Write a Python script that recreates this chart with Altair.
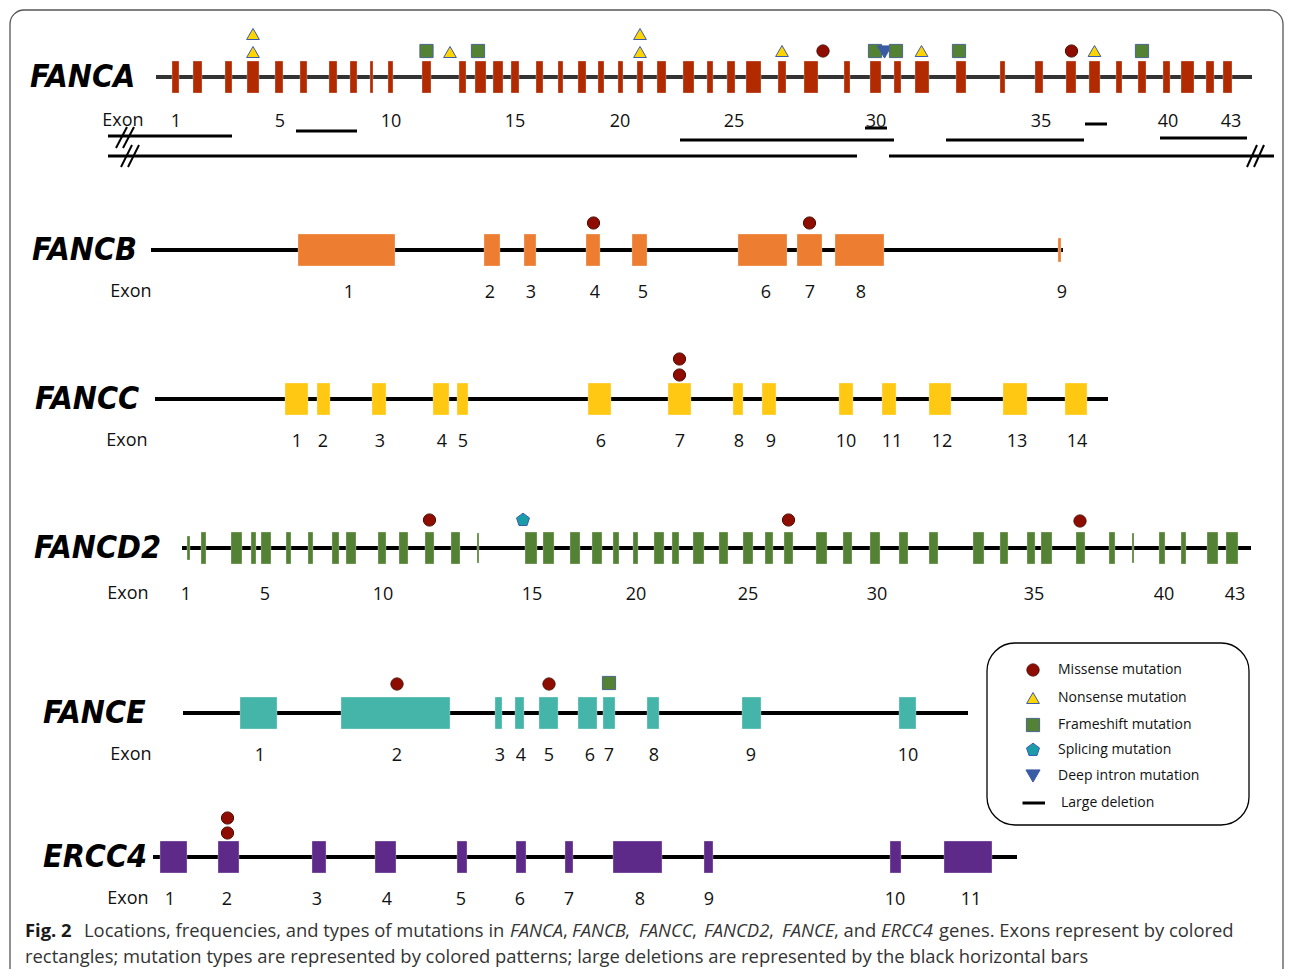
import altair as alt
import pandas as pd

# ---------------- data ----------------
GENES = ["FANCA", "FANCB", "FANCC", "FANCD2", "FANCE", "ERCC4"]
GENE_Y = [77, 250, 399, 548, 713, 857]
GENE_LINE_START = [156, 151, 155, 182, 183, 153]
GENE_LINE_END = [1252, 1063, 1108, 1251, 968, 1017]
GENE_COLORS = ["#B22A00", "#ED7D31", "#FFC913", "#548235", "#45B5AA", "#5E2A8A"]
GENE_LINE_COLORS = ["#333333", "#000000", "#000000", "#000000", "#000000", "#000000"]
GENE_LABEL_X = [30, 32, 35, 34, 43, 43]
EXON_WORD_X = [123, 131, 127, 128, 131, 128]
EXON_ROW_Y = [122, 293, 442, 595, 756, 900]

FANCA_START = [172, 193, 225, 247, 275, 300, 329, 350, 370, 388, 422, 459, 475, 493, 511, 536, 558, 578, 598, 618,
               637, 657, 683, 707, 727, 746, 778, 804, 844, 870, 894, 915, 956, 1000, 1035, 1066, 1089, 1116, 1138,
               1163, 1181, 1206, 1223]
FANCA_END = [179, 202, 232, 259, 283, 307, 337, 357, 373, 393, 431, 466, 486, 503, 519, 543, 563, 586, 604, 623,
             643, 666, 694, 713, 735, 761, 786, 818, 850, 881, 901, 929, 966, 1005, 1043, 1076, 1100, 1122, 1146,
             1170, 1194, 1214, 1232]
FANCB_START = [298, 484, 524, 586, 632, 738, 797, 835, 1058]
FANCB_END = [395, 500, 536, 600, 647, 787, 822, 884, 1061]
FANCC_START = [285, 317, 372, 433, 457, 588, 668, 733, 762, 839, 882, 929, 1003, 1065]
FANCC_END = [308, 330, 386, 449, 468, 611, 691, 743, 776, 853, 896, 951, 1027, 1087]
FANCD2_START = [187, 201, 231, 251, 261, 286, 308, 332, 346, 378, 399, 425, 451, 477, 525, 543, 570, 592, 613, 633,
                654, 672, 693, 719, 743, 765, 784, 816, 843, 870, 899, 929, 973, 1000, 1027, 1041, 1076, 1109, 1132,
                1159, 1181, 1207, 1226]
FANCD2_END = [190, 206, 242, 256, 271, 291, 313, 339, 356, 386, 408, 434, 460, 479, 537, 554, 580, 602, 619, 638,
              664, 679, 704, 728, 753, 773, 793, 827, 852, 880, 908, 938, 984, 1008, 1035, 1052, 1085, 1115, 1134,
              1165, 1186, 1218, 1238]
FANCE_START = [240, 341, 495, 515, 539, 578, 603, 647, 742, 899]
FANCE_END = [277, 450, 502, 524, 558, 597, 615, 659, 761, 916]
ERCC4_START = [160, 218, 312, 375, 457, 516, 565, 613, 704, 890, 944]
ERCC4_END = [187, 239, 326, 396, 467, 526, 573, 662, 713, 901, 992]

EXON_STARTS = [FANCA_START, FANCB_START, FANCC_START, FANCD2_START, FANCE_START, ERCC4_START]
EXON_ENDS = [FANCA_END, FANCB_END, FANCC_END, FANCD2_END, FANCE_END, ERCC4_END]
# thinner exons (gene index, exon index) -> half height
THIN_EXONS = {(1, 8): 12, (3, 0): 12, (3, 13): 15, (3, 38): 15}

FANCA_LABELS = ["1", "5", "10", "15", "20", "25", "30", "35", "40", "43"]
FANCA_LABEL_X = [176, 280, 391, 515, 620, 734, 876, 1041, 1168, 1231]
FANCB_LABELS = ["1", "2", "3", "4", "5", "6", "7", "8", "9"]
FANCB_LABEL_X = [349, 490, 531, 595, 643, 766, 810, 861, 1062]
FANCC_LABELS = [str(i) for i in range(1, 15)]
FANCC_LABEL_X = [297, 323, 380, 442, 463, 601, 680, 739, 771, 846, 892, 942, 1017, 1077]
FANCD2_LABELS = ["1", "5", "10", "15", "20", "25", "30", "35", "40", "43"]
FANCD2_LABEL_X = [186, 265, 383, 532, 636, 748, 877, 1034, 1164, 1235]
FANCE_LABELS = [str(i) for i in range(1, 11)]
FANCE_LABEL_X = [260, 397, 500, 521, 549, 590, 609, 654, 751, 908]
ERCC4_LABELS = [str(i) for i in range(1, 12)]
ERCC4_LABEL_X = [170, 227, 317, 387, 461, 520, 569, 640, 709, 895, 971]

LABELS = [FANCA_LABELS, FANCB_LABELS, FANCC_LABELS, FANCD2_LABELS, FANCE_LABELS, ERCC4_LABELS]
LABEL_X = [FANCA_LABEL_X, FANCB_LABEL_X, FANCC_LABEL_X, FANCD2_LABEL_X, FANCE_LABEL_X, ERCC4_LABEL_X]

MUT_TYPES = ["Missense mutation", "Nonsense mutation", "Frameshift mutation", "Splicing mutation",
             "Deep intron mutation", "Large deletion"]
MUT_SHAPES = ["circle", "triangle-up", "square",
              "M0,-1L0.951,-0.309L0.588,0.809L-0.588,0.809L-0.951,-0.309Z", "triangle-down", "stroke"]
MUT_FILLS = ["#8E0C00", "#FFD500", "#548235", "#1A9CAB", "#3A5BA3", "#000000"]
MUT_STROKES = ["#4A0A00", "#3B5BA8", "#4A6590", "#3B5BA8", "#3A5BA3", "#000000"]
MUT_SIZES = [150, 210, 150, 140, 200, 100]

# mutations: x position, y (stack level in px), type
FANCA_MUT_X = [253, 253, 426.5, 450, 478, 640, 640, 782, 823, 875, 884.5, 896, 921.5, 959, 1071.5, 1094.5, 1142]
FANCA_MUT_Y = [52, 34, 51, 52, 51, 52, 34, 51, 51, 51, 52, 51, 51, 51, 51, 51, 51]
FANCA_MUT_T = ["Nonsense mutation", "Nonsense mutation", "Frameshift mutation", "Nonsense mutation",
               "Frameshift mutation", "Nonsense mutation", "Nonsense mutation", "Nonsense mutation",
               "Missense mutation", "Frameshift mutation", "Deep intron mutation", "Frameshift mutation",
               "Nonsense mutation", "Frameshift mutation", "Missense mutation", "Nonsense mutation",
               "Frameshift mutation"]
FANCB_MUT_X = [593.5, 809.5]
FANCB_MUT_Y = [223, 223]
FANCB_MUT_T = ["Missense mutation", "Missense mutation"]
FANCC_MUT_X = [679.5, 679.5]
FANCC_MUT_Y = [375, 359]
FANCC_MUT_T = ["Missense mutation", "Missense mutation"]
FANCD2_MUT_X = [429.5, 523, 788.5, 1080]
FANCD2_MUT_Y = [520, 520, 520, 521]
FANCD2_MUT_T = ["Missense mutation", "Splicing mutation", "Missense mutation", "Missense mutation"]
FANCE_MUT_X = [397, 549, 609]
FANCE_MUT_Y = [684, 684, 683]
FANCE_MUT_T = ["Missense mutation", "Missense mutation", "Frameshift mutation"]
ERCC4_MUT_X = [227.5, 227.5]
ERCC4_MUT_Y = [833, 818]
ERCC4_MUT_T = ["Missense mutation", "Missense mutation"]

# FANCA large deletions (x from, x to, y)
DEL_X1 = [108, 296, 680, 865, 946, 1085, 1160, 108, 889]
DEL_X2 = [232, 357, 894, 887, 1084, 1107, 1247, 857, 1274]
DEL_Y = [136, 131, 140, 128, 140, 124, 138, 156, 156]

# break marks "//"
BRK_X1 = [116, 123, 121, 128, 1247, 1254]
BRK_Y1 = [148, 148, 167, 167, 167, 167]
BRK_X2 = [127, 134, 132, 139, 1257, 1264]
BRK_Y2 = [127, 127, 145, 145, 145, 145]

LEGEND_Y = [670, 698, 725, 750, 776, 803]
LEGEND_SYMBOL_X = 1033
LEGEND_TEXT_X = 1058
LEGEND_BOX = (987, 1249, 643, 825)

CAPTION1 = [("Fig. 2", "bold", "normal", 25),
            ("Locations, frequencies, and types of mutations in", "normal", "normal", 84),
            ("FANCA", "normal", "italic", 510), (",", "normal", "normal", 563),
            ("FANCB", "normal", "italic", 572), (",", "normal", "normal", 625),
            ("FANCC", "normal", "italic", 639), (",", "normal", "normal", 692),
            ("FANCD2", "normal", "italic", 704), (",", "normal", "normal", 769),
            ("FANCE", "normal", "italic", 782), (", and", "normal", "normal", 834),
            ("ERCC4", "normal", "italic", 881),
            ("genes. Exons represent by colored", "normal", "normal", 939)]
CAPTION1_Y = 931
CAPTION2 = "rectangles; mutation types are represented by colored patterns; large deletions are represented by the black horizontal bars"
CAPTION2_Y = 957

# ---------------- tables ----------------
exon_rows = []
for gi, g in enumerate(GENES):
    for ei, (s, e) in enumerate(zip(EXON_STARTS[gi], EXON_ENDS[gi])):
        hh = THIN_EXONS.get((gi, ei), 16)
        exon_rows.append({"gene": g, "x": s, "x2": e, "y": GENE_Y[gi] - hh, "y2": GENE_Y[gi] + hh})
exons = pd.DataFrame(exon_rows)

lines = pd.DataFrame({"gene": GENES, "x": GENE_LINE_START, "x2": GENE_LINE_END, "y": GENE_Y,
                      "col": GENE_LINE_COLORS})

lab_rows = []
for gi, g in enumerate(GENES):
    for t, x in zip(LABELS[gi], LABEL_X[gi]):
        lab_rows.append({"x": x, "y": EXON_ROW_Y[gi], "t": t})
    lab_rows.append({"x": EXON_WORD_X[gi], "y": EXON_ROW_Y[gi] - 1, "t": "Exon"})
exlabels = pd.DataFrame(lab_rows)

genenames = pd.DataFrame({"x": GENE_LABEL_X, "y": GENE_Y, "t": GENES})

mut_rows = []
for xs, ys, ts in [(FANCA_MUT_X, FANCA_MUT_Y, FANCA_MUT_T), (FANCB_MUT_X, FANCB_MUT_Y, FANCB_MUT_T),
                   (FANCC_MUT_X, FANCC_MUT_Y, FANCC_MUT_T), (FANCD2_MUT_X, FANCD2_MUT_Y, FANCD2_MUT_T),
                   (FANCE_MUT_X, FANCE_MUT_Y, FANCE_MUT_T), (ERCC4_MUT_X, ERCC4_MUT_Y, ERCC4_MUT_T)]:
    for x, y, t in zip(xs, ys, ts):
        mut_rows.append({"x": x, "y": y, "type": t})
for t, y in zip(MUT_TYPES[:5], LEGEND_Y[:5]):
    mut_rows.append({"x": LEGEND_SYMBOL_X, "y": y, "type": t})
muts = pd.DataFrame(mut_rows)

dels = pd.DataFrame({"x": DEL_X1 + [LEGEND_SYMBOL_X - 10.5], "x2": DEL_X2 + [LEGEND_SYMBOL_X + 12],
                     "y": DEL_Y + [LEGEND_Y[5]]})
brks = pd.DataFrame({"x": BRK_X1, "y": BRK_Y1, "x2": BRK_X2, "y2": BRK_Y2})

legtext = pd.DataFrame({"x": [LEGEND_TEXT_X] * 5 + [LEGEND_TEXT_X + 3], "y": LEGEND_Y, "t": MUT_TYPES})
legbox = pd.DataFrame({"x": [LEGEND_BOX[0]], "x2": [LEGEND_BOX[1]], "y": [LEGEND_BOX[2]], "y2": [LEGEND_BOX[3]]})
frame = pd.DataFrame({"x": [10], "x2": [1283], "y": [10], "y2": [1010]})

cap = pd.DataFrame([{"x": x, "y": CAPTION1_Y, "t": t, "w": w, "s": s} for (t, w, s, x) in CAPTION1] +
                   [{"x": 25, "y": CAPTION2_Y, "t": CAPTION2, "w": "normal", "s": "normal"}])

# ---------------- encodings ----------------
XS = alt.Scale(domain=[8, 1284], nice=False, zero=False)
YS = alt.Scale(domain=[8, 969], nice=False, zero=False, reverse=True)


def X(f="x"):
    return alt.X(f + ":Q", scale=XS, axis=None)


def Y(f="y"):
    return alt.Y(f + ":Q", scale=YS, axis=None)


NARROW = "Liberation Sans Narrow, DejaVu Sans Condensed, sans-serif"
SANS = "Open Sans, sans-serif"

frame_l = alt.Chart(frame).mark_rect(fillOpacity=0, stroke="#555555", strokeWidth=1.3, cornerRadius=14).encode(
    x=X(), x2="x2", y=Y(), y2="y2")

line_l = alt.Chart(lines).mark_rule(strokeWidth=4).encode(
    x=X(), x2="x2", y=Y(), color=alt.Color("col:N", scale=None))

exon_l = alt.Chart(exons).mark_rect(strokeWidth=0.6, strokeOpacity=0.5, stroke="white").encode(
    x=X(), x2="x2", y=Y(), y2="y2",
    color=alt.Color("gene:N", scale=alt.Scale(domain=GENES, range=GENE_COLORS), legend=None))

del_l = alt.Chart(dels).mark_rule(strokeWidth=3, color="black").encode(x=X(), x2="x2", y=Y())
brk_l = alt.Chart(brks).mark_rule(strokeWidth=2, color="black").encode(x=X(), x2="x2", y=Y(), y2="y2")

mut_l = alt.Chart(muts).mark_point(filled=True, opacity=1, strokeWidth=1).encode(
    x=X(), y=Y(),
    shape=alt.Shape("type:N", scale=alt.Scale(domain=MUT_TYPES, range=MUT_SHAPES), legend=None),
    fill=alt.Fill("type:N", scale=alt.Scale(domain=MUT_TYPES, range=MUT_FILLS), legend=None),
    stroke=alt.Stroke("type:N", scale=alt.Scale(domain=MUT_TYPES, range=MUT_STROKES), legend=None),
    size=alt.Size("type:N", scale=alt.Scale(domain=MUT_TYPES, range=MUT_SIZES), legend=None))

gname_l = alt.Chart(genenames).mark_text(font=NARROW, fontSize=32, fontWeight="bold", fontStyle="italic",
                                         align="left", baseline="middle", color="black").encode(
    x=X(), y=Y(), text="t:N")

exlab_l = alt.Chart(exlabels).mark_text(font=SANS, fontSize=18, align="center", baseline="middle",
                                        color="#111111").encode(x=X(), y=Y(), text="t:N")

legbox_l = alt.Chart(legbox).mark_rect(fill="white", stroke="black", strokeWidth=1.3, cornerRadius=28).encode(
    x=X(), x2="x2", y=Y(), y2="y2")
legtext_l = alt.Chart(legtext).mark_text(font=SANS, fontSize=14, align="left", baseline="middle",
                                         color="#111111").encode(x=X(), y=Y(), text="t:N")

cap_layers = []
for w in ["normal", "bold"]:
    for s in ["normal", "italic"]:
        sub = cap[(cap.w == w) & (cap.s == s)]
        if len(sub) == 0:
            continue
        cap_layers.append(alt.Chart(sub).mark_text(font=SANS, fontSize=18.4, fontWeight=w, fontStyle=s,
                                                   align="left", baseline="middle",
                                                   color="#1a1a1a" if w == "bold" else "#333333").encode(
            x=X(), y=Y(), text="t:N"))

chart = alt.layer(frame_l, legbox_l, line_l, exon_l, del_l, brk_l, mut_l, gname_l, exlab_l, legtext_l,
                  *cap_layers).properties(
    width=1276, height=961, autosize="none", padding=0
).configure_view(stroke=None)

chart.save("out.html", embed_options={"renderer": "svg", "actions": False})
